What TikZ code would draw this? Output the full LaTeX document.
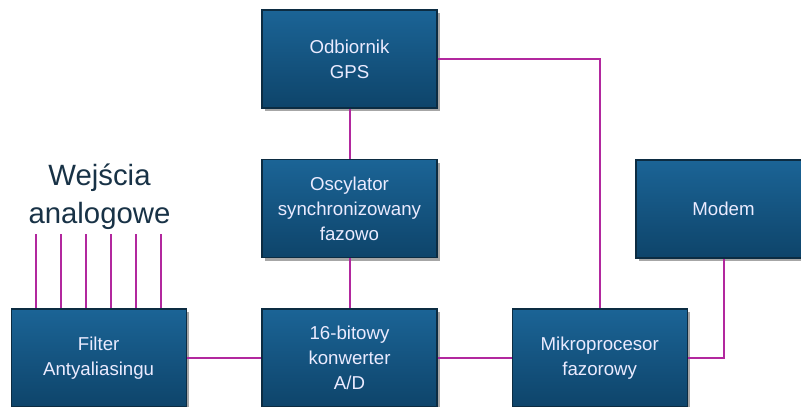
\documentclass[tikz,border=0pt]{standalone}
\usepackage{fontspec}
\setmainfont{Liberation Sans}
\usetikzlibrary{positioning, shadows, calc}
\definecolor{boxtop}{RGB}{27,100,150}
\definecolor{boxbot}{RGB}{14,68,106}
\definecolor{boxline}{RGB}{12,44,66}
\definecolor{wire}{RGB}{178,40,158}
\definecolor{labeltext}{RGB}{24,50,70}
\begin{document}
\begin{tikzpicture}[
    x=0.75pt, y=-0.75pt,
    node distance=38pt and 56pt,
    font=\fontsize{14}{18.75}\selectfont,
    block/.style={draw=boxline, line width=0.9pt, top color=boxtop, bottom color=boxbot,
      text=white!92!blue, align=center, minimum width=131.25pt, minimum height=73.5pt,
      inner sep=2pt, drop shadow={shadow xshift=2pt, shadow yshift=-2.5pt, fill=black, opacity=0.35}},
    wire/.style={draw=wire, line width=1.5pt}
  ]
    \useasboundingbox (0,0) rectangle (801,407);
    \clip (0,0) rectangle (801,407);
    \node[block] (gps) at (349.5,59) {Odbiornik\\GPS};
    \node[block, below=of gps] (osc) {Oscylator\\synchronizowany\\fazowo};
    \node[block, below=37.5pt of osc] (adc) {16-bitowy\\konwerter\\A/D};
    \node[block, left=of adc] (filter) {Filter\\Antyaliasingu};
    \node[block, right=55.5pt of adc] (cpu) {Mikroprocesor\\fazorowy};
    \node[block] (modem) at (723.5,209) {Modem};
    \node[text=labeltext, align=center, font=\fontsize{22}{28.5}\selectfont] (inlabel) at (99.5,197)
    {Wejścia\\analogowe};
    % analog inputs
    \foreach \i/\dx in {1/-62.5, 2/-37.5, 3/-12.5, 4/12.5, 5/37.5, 6/62.5} {
      \coordinate (in\i) at ($(filter.center |- 0,234)+(\dx,0)$);
      \draw[wire] (in\i) -- (in\i |- filter.north);
    }
    \draw[wire] (gps) -- (osc);
    \draw[wire] (osc) -- (adc);
    \draw[wire] (filter) -- (adc);
    \draw[wire] (adc) -- (cpu);
    \draw[wire] (gps.east) -| (cpu.north);
    \draw[wire] (cpu.east) -| (modem.south);
  \end{tikzpicture}
\end{document}
